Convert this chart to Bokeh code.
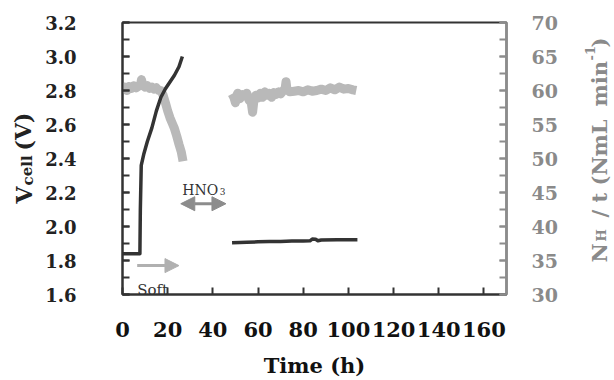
from bokeh.plotting import figure
from bokeh.layouts import row
from bokeh.models import Range1d, LinearAxis, SingleIntervalTicker, PrintfTickFormatter, Label, Arrow, NormalHead
from bokeh.embed import file_html
from bokeh.resources import INLINE

# ---- data ----
t_v1 = [0, 7.7, 7.9, 8.3, 9.5, 11, 13, 15, 17, 19, 21, 23, 25, 26.5]
v1 = [1.84, 1.84, 2.10, 2.36, 2.43, 2.50, 2.58, 2.68, 2.76, 2.81, 2.85, 2.89, 2.94, 3.00]

t_v2 = [48.5, 52, 55, 60, 65, 70, 75, 80, 83, 84, 85.5, 86.5, 88, 95, 104]
v2 = [1.905, 1.906, 1.907, 1.910, 1.912, 1.912, 1.914, 1.915, 1.916, 1.926, 1.925, 1.916, 1.921, 1.922, 1.922]

t_n1 = [0, 1, 2, 3, 4, 5, 6, 7, 8, 8.4, 9, 10, 11, 12, 13, 14, 15, 16, 17, 18, 19, 20, 21, 22, 23, 24, 25, 26, 26.8]
n1 = [60.2, 60.5, 60.0, 60.6, 60.3, 60.7, 60.4, 60.6, 60.9, 61.6, 60.8, 60.5, 60.7, 60.3, 60.5, 60.2, 60.4, 60.0, 60.0,
      59.3, 58.2, 57.0, 56.0, 55.2, 54.4, 53.3, 52.1, 51.0, 49.6]

t_n2 = [48.5, 49.3, 50, 50.6, 51, 52, 53, 54, 55, 56, 57, 57.6, 58.2, 59, 60, 61, 62, 63, 64, 65, 66, 67, 68, 69, 70,
        71, 72, 72.4, 72.8, 74, 76, 78, 80, 82, 84, 86, 88, 90, 92, 94, 96, 98, 100, 102, 103.5]
n2 = [59.5, 59.0, 58.2, 59.3, 59.6, 58.8, 59.4, 59.2, 59.6, 58.6, 58.2, 56.8, 58.6, 59.3, 58.9, 59.6, 59.0, 59.8, 59.3,
      59.6, 59.0, 59.7, 59.4, 59.8, 59.5, 59.9, 60.3, 61.3, 60.2, 59.8, 59.9, 60.0, 59.8, 60.1, 59.9, 60.0, 60.2, 60.0,
      60.4, 60.1, 60.5, 60.2, 60.3, 60.1, 60.0]

x_range = (0, 170)
vcell_range = (1.6, 3.2)
nh_range = (30, 70)

# annotation anchors (data units)
soft_arrow = dict(x0=6.5, x1=25.0, y=1.77)
hno3_arrow = dict(x0=25.8, x1=45.8, y=2.134)

DARK = "#333333"
LIGHT = "#b9b9b9"
GREY_AX = "#8c8c8c"
GREY_TXT = "#8a8a8a"
FONT = "DejaVu Serif"
H = 380
TOP, BOTTOM = 22, 86
LEFT_W, RIGHT_W = 40, 36
MAIN_W = 614 - LEFT_W - RIGHT_W

p = figure(width=MAIN_W, height=H, min_border_left=122 - LEFT_W, min_border_right=MAIN_W + LEFT_W - 506,
           min_border_top=TOP, min_border_bottom=BOTTOM, title=None,
           x_range=Range1d(*x_range), y_range=Range1d(*vcell_range),
           output_backend="svg", toolbar_location=None)
p.extra_y_ranges = {"nh": Range1d(*nh_range)}
p.xgrid.visible = False
p.ygrid.visible = False
p.outline_line_color = DARK
p.outline_line_width = 2
p.outline_line_alpha = 1

# lines
p.line(t_n1, n1, y_range_name="nh", line_color=LIGHT, line_width=9, line_join="round")
p.line(t_n2, n2, y_range_name="nh", line_color=LIGHT, line_width=9, line_join="round")
p.line(t_v1, v1, line_color=DARK, line_width=3.5, line_join="round")
p.line(t_v2, v2, line_color=DARK, line_width=3.5, line_join="round")

# x axis
xa = p.xaxis[0]
xa.ticker = SingleIntervalTicker(interval=20, num_minor_ticks=0)
xa.axis_line_color = DARK
xa.axis_line_width = 2
xa.major_tick_in = 7
xa.major_tick_out = 0
xa.major_tick_line_width = 2
xa.major_tick_line_color = DARK
xa.minor_tick_line_color = None
xa.major_label_standoff = 27
xa.major_label_text_font = FONT
xa.major_label_text_font_style = "bold"
xa.major_label_text_font_size = "21px"
xa.major_label_text_color = "#111111"
xa.axis_label = "Time (h)"
xa.axis_label_text_font = FONT
xa.axis_label_text_font_style = "bold"
xa.axis_label_text_font_size = "21px"
xa.axis_label_text_color = "#111111"
xa.axis_label_standoff = 13

# left axis
ya = p.yaxis[0]
ya.ticker = SingleIntervalTicker(interval=0.2, num_minor_ticks=2)
ya.formatter = PrintfTickFormatter(format="%.1f")
ya.axis_line_color = DARK
ya.axis_line_width = 2
ya.major_tick_in = 7
ya.major_tick_out = 0
ya.minor_tick_in = 7
ya.minor_tick_out = 0
ya.major_tick_line_width = 2
ya.minor_tick_line_width = 2
ya.major_tick_line_color = DARK
ya.minor_tick_line_color = DARK
ya.major_label_standoff = 46
ya.major_label_text_font = FONT
ya.major_label_text_font_style = "bold"
ya.major_label_text_font_size = "18px"
ya.major_label_text_color = "#222222"

# right axis
ra = LinearAxis(y_range_name="nh")
ra.ticker = SingleIntervalTicker(interval=5, num_minor_ticks=2)
ra.axis_line_color = GREY_AX
ra.axis_line_width = 2
ra.major_tick_in = 7
ra.major_tick_out = 0
ra.minor_tick_in = 7
ra.minor_tick_out = 0
ra.major_tick_line_width = 2
ra.minor_tick_line_width = 2
ra.major_tick_line_color = GREY_AX
ra.minor_tick_line_color = GREY_AX
ra.major_label_standoff = 25
ra.major_label_text_font = FONT
ra.major_label_text_font_style = "bold"
ra.major_label_text_font_size = "19px"
ra.major_label_text_color = GREY_TXT
p.add_layout(ra, "right")

# ---- annotations ----
p.add_layout(Arrow(end=NormalHead(size=14, fill_color="#b0b0b0", line_color="#b0b0b0"),
                   x_start=soft_arrow["x0"], y_start=soft_arrow["y"],
                   x_end=soft_arrow["x1"], y_end=soft_arrow["y"],
                   line_color="#b0b0b0", line_width=3))
p.add_layout(Arrow(start=NormalHead(size=14, fill_color=GREY_AX, line_color=GREY_AX),
                   end=NormalHead(size=14, fill_color=GREY_AX, line_color=GREY_AX),
                   x_start=hno3_arrow["x0"], y_start=hno3_arrow["y"],
                   x_end=hno3_arrow["x1"], y_end=hno3_arrow["y"],
                   line_color=GREY_AX, line_width=3))

p.add_layout(Label(x=26.5, y=2.212, text="HNO", text_font=FONT, text_font_size="14px",
                   text_color="#333333", text_baseline="alphabetic"))
p.add_layout(Label(x=43.0, y=2.203, text="3", text_font=FONT, text_font_size="9px",
                   text_color="#333333", text_baseline="alphabetic"))
p.add_layout(Label(x=6.5, y=1.629, text="Soft", text_font=FONT, text_font_size="15px",
                   text_color="#333333", text_baseline="alphabetic"))


# ---- side strips that hold the rotated axis titles ----
# the row aligns their frames with the main frame, so their y range is set so that
# y = distance from the bottom of the page, in pixels
def strip(w):
    f = figure(width=w, height=H, x_range=Range1d(0, w), y_range=Range1d(BOTTOM, H - TOP),
               min_border=0, x_axis_type=None, y_axis_type=None, title=None,
               output_backend="svg", toolbar_location=None)
    f.outline_line_color = None
    f.xgrid.visible = False
    f.ygrid.visible = False
    return f


left = strip(LEFT_W)
left_parts = [("V", 22, 23, 177), ("cell", 15, 27, 195), ("(V)", 22, 23, 230)]
for txt, size, x, y in left_parts:
    left.add_layout(Label(x=x, y=y, text=txt, angle=1.5708,
                          text_font=FONT, text_font_style="bold", text_font_size=f"{size}px",
                          text_color="#222222", text_align="left", text_baseline="alphabetic"))

right = strip(RIGHT_W)
right_parts = [("N", 21, 21, 118), ("H", 13, 23, 139), ("/ t (NmL", 21, 21, 163),
               ("min", 21, 21, 274), ("-1", 13, 12, 320), (")", 21, 21, 333)]
for txt, size, x, y in right_parts:
    right.add_layout(Label(x=x, y=y, text=txt, angle=1.5708,
                           text_font=FONT, text_font_style="bold", text_font_size=f"{size}px",
                           text_color=GREY_TXT, text_align="left", text_baseline="alphabetic"))

layout = row(left, p, right, spacing=0)
open("out.html", "w").write(file_html(layout, INLINE))
